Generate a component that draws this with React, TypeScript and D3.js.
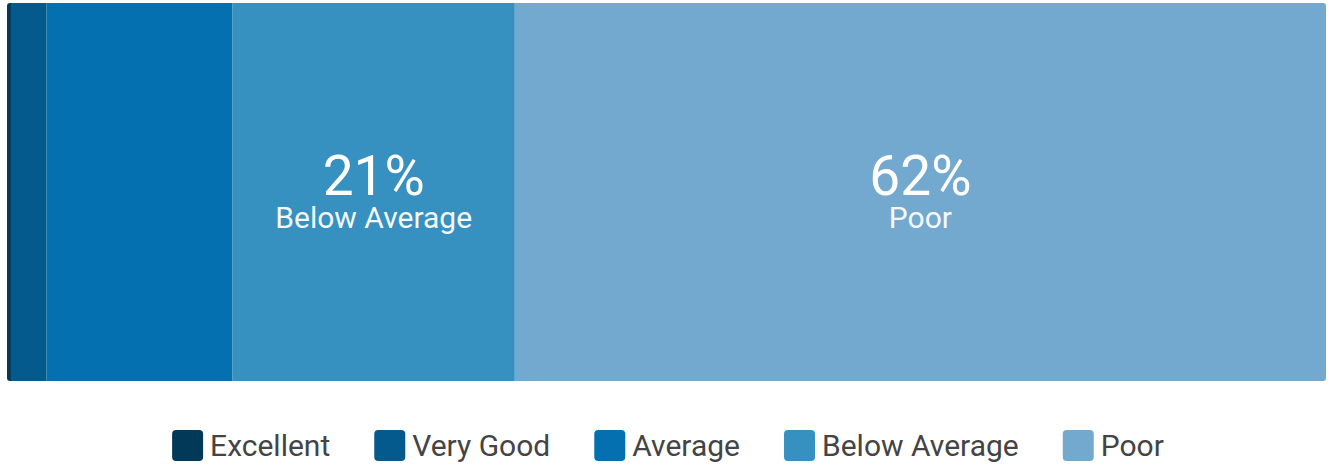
import React, { useRef, useEffect } from 'react';
import * as d3 from 'd3';

const categories: string[] = ['Excellent', 'Very Good', 'Average', 'Below Average', 'Poor'];
const shares: number[] = [0.3, 2.7, 14.1, 21.4, 61.5];
const colors: string[] = ['#023858', '#045a8d', '#0570b0', '#3690c0', '#74a9cf'];
const shownLabels: string[] = ['', '', '', '21%', '62%'];

const App: React.FC = () => {
  const svgRef = useRef<SVGSVGElement | null>(null);

  useEffect(() => {
    if (!svgRef.current) return;
    const width = 1328;
    const height = 464;
    const bar = { left: 7, right: 1326, top: 3, bottom: 381 };

    const svg = d3.select(svgRef.current)
      .attr('width', width)
      .attr('height', height);
    svg.selectAll('*').remove();

    const total = d3.sum(shares);
    const x = d3.scaleLinear().domain([0, total]).range([bar.left, bar.right]);
    const starts = shares.map((_, i) => d3.sum(shares.slice(0, i)));

    // rounded outline of the whole bar
    svg.append('defs').append('clipPath').attr('id', 'barClip')
      .append('rect')
      .attr('x', bar.left).attr('y', bar.top)
      .attr('width', bar.right - bar.left).attr('height', bar.bottom - bar.top)
      .attr('rx', 3);

    const g = svg.append('g').attr('clip-path', 'url(#barClip)');
    g.selectAll('rect.seg')
      .data(shares)
      .join('rect')
      .attr('class', 'seg')
      .attr('x', (_, i) => x(starts[i]))
      .attr('y', bar.top)
      .attr('width', (d) => x(d) - x(0))
      .attr('height', bar.bottom - bar.top)
      .attr('fill', (_, i) => colors[i]);

    shares.forEach((d, i) => {
      if (!shownLabels[i]) return;
      const cx = x(starts[i] + d / 2);
      svg.append('text')
        .attr('x', cx).attr('y', 195)
        .attr('text-anchor', 'middle')
        .attr('font-family', 'Roboto, sans-serif')
        .attr('font-size', 55)
        .attr('fill', '#fff')
        .text(shownLabels[i]);
      svg.append('text')
        .attr('x', cx).attr('y', 228)
        .attr('text-anchor', 'middle')
        .attr('font-family', 'Roboto, sans-serif')
        .attr('font-size', 30)
        .attr('fill', '#f4f8fc')
        .text(categories[i]);
    });

    // legend
    const sw = 31;
    const gapText = 7;
    const gapItem = 44;
    const legend = svg.append('g');
    const items = legend.selectAll('g.item')
      .data(categories)
      .join('g')
      .attr('class', 'item');
    items.append('rect')
      .attr('width', sw).attr('height', sw).attr('rx', 4)
      .attr('y', 430)
      .attr('fill', (_, i) => colors[i]);
    const texts = items.append('text')
      .attr('x', sw + gapText)
      .attr('y', 456)
      .attr('font-family', 'Roboto, sans-serif')
      .attr('font-size', 30)
      .attr('fill', '#444')
      .text((d) => d);

    const widths = texts.nodes().map((n) => (n as SVGTextElement).getComputedTextLength());
    const itemW = widths.map((w) => sw + gapText + w);
    const totalW = d3.sum(itemW) + gapItem * (itemW.length - 1);
    let cur = 668 - totalW / 2;
    items.attr('transform', (_, i) => {
      const t = `translate(${cur},0)`;
      cur += itemW[i] + gapItem;
      return t;
    });
  }, []);

  return (
    <div style={{ position: 'absolute', left: 0, top: 0 }}>
      <svg ref={svgRef} style={{ display: 'block' }}></svg>
    </div>
  );
};

export default App;
